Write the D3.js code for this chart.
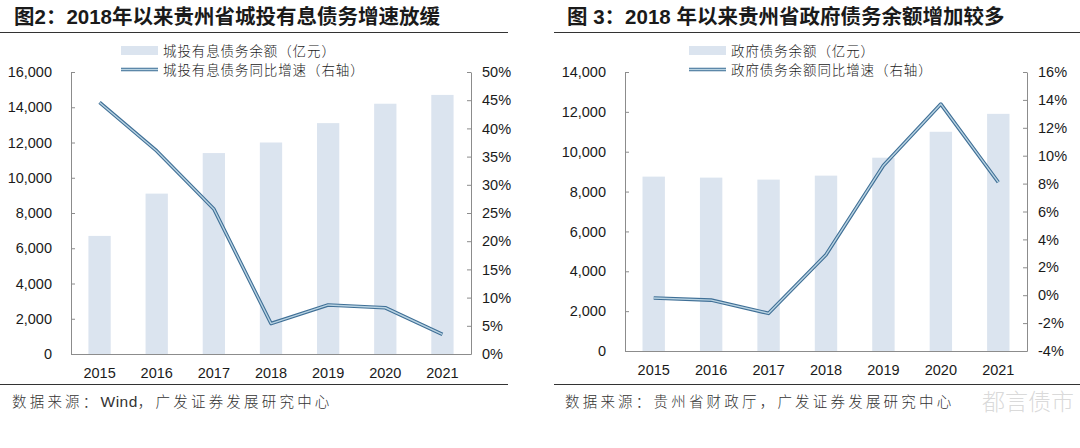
<!DOCTYPE html>
<html><head><meta charset="utf-8">
<script src="https://cdn.jsdelivr.net/npm/d3@7"></script>
<style>
html,body{margin:0;padding:0;background:#fff;}
svg{display:block;}
</style></head>
<body>
<svg id="c" width="1080" height="448"></svg>
<script>
// ---- data ----
const years = ["2015","2016","2017","2018","2019","2020","2021"];
const cityDebt = [6700, 9100, 11400, 12000, 13100, 14200, 14700];
const cityGrowth = [44.6, 36.0, 25.7, 5.4, 8.7, 8.2, 3.5];
const govDebt = [8750, 8700, 8600, 8800, 9700, 11000, 11900];
const govGrowth = [-0.2, -0.35, -1.3, 2.9, 9.3, 13.7, 8.1];
const leftTicks1 = [0,2000,4000,6000,8000,10000,12000,14000,16000];
const rightTicks1 = [0,5,10,15,20,25,30,35,40,45,50];
const leftTicks2 = [0,2000,4000,6000,8000,10000,12000,14000];
const rightTicks2 = [-4,-2,0,2,4,6,8,10,12,14,16];
const title1 = "图2：2018年以来贵州省城投有息债务增速放缓";
const title2 = "图 3：2018 年以来贵州省政府债务余额增加较多";
const legend1 = ["城投有息债务余额（亿元）","城投有息债务同比增速（右轴）"];
const legend2 = ["政府债务余额（亿元）","政府债务余额同比增速（右轴）"];
const source1 = ["数据来源：", "Wind", "，广发证券发展研究中心"];
const source2 = ["数据来源：贵州省财政厅，广发证券发展研究中心"];
const watermark = "都言债市";

const svg = d3.select("#c");
const BAR = "#dbe4ef", AX = "#8c8c8c";
const LINE_OUT = "#3f6f96", LINE_IN = "#b9d3e2";
const numFont = "'Liberation Sans', Arial, sans-serif";
const cjkFont = "'Noto Sans CJK SC', 'Liberation Sans', sans-serif";
const fmt = d3.format(",");

function chart(o){
  const g = svg.append("g");
  // title
  g.append("text").attr("x", o.titleX).attr("y", 24)
    .attr("font-family", "'Liberation Sans', 'Noto Sans CJK SC', sans-serif")
    .attr("font-weight", "bold").attr("font-size", 20.5).attr("fill", "#1a1a1a")
    .text(o.title);
  g.append("line").attr("x1", o.ruleX0).attr("x2", o.ruleX1).attr("y1", 32.5).attr("y2", 32.5)
    .attr("stroke", "#333").attr("stroke-width", 1);
  g.append("line").attr("x1", o.ruleX0).attr("x2", o.ruleX1).attr("y1", 384.5).attr("y2", 384.5)
    .attr("stroke", "#333").attr("stroke-width", 1);
  const st = g.append("text").attr("x", o.srcX).attr("y", 407)
    .attr("font-family", cjkFont).attr("font-weight", 300).attr("font-size", 14.5)
    .attr("fill", "#333");
  st.selectAll("tspan").data(o.source).join("tspan")
    .attr("letter-spacing", d => /^[A-Za-z]+$/.test(d) ? 0.5 : 3.2)
    .attr("font-family", d => /^[A-Za-z]+$/.test(d) ? numFont : cjkFont)
    .attr("font-size", d => /^[A-Za-z]+$/.test(d) ? 15.5 : 14.5)
    .text(d=>d);

  const x = d3.scaleBand().domain(years).range([o.x0, o.x1]).paddingInner(0.61).paddingOuter(0.305);
  const yL = d3.scaleLinear().domain(o.lDomain).range([o.yB, o.yT]);
  const yR = d3.scaleLinear().domain(o.rDomain).range([o.yB, o.yT]);

  // bars
  g.append("g").selectAll("rect").data(o.bars).join("rect")
    .attr("x", (d,i)=>x(years[i])).attr("width", x.bandwidth())
    .attr("y", d=>yL(d)).attr("height", d=>yL(o.lDomain[0]) - yL(d))
    .attr("fill", BAR);

  // axes
  const la = g.append("g").attr("transform", `translate(${o.x0},0)`)
    .call(d3.axisLeft(yL).tickValues(o.lTicks).tickSizeInner(-4).tickSizeOuter(0).tickPadding(19).tickFormat(fmt));
  const ra = g.append("g").attr("transform", `translate(${o.x1},0)`)
    .call(d3.axisRight(yR).tickValues(o.rTicks).tickSizeInner(-4).tickSizeOuter(0).tickPadding(11).tickFormat(d=>d+"%"));
  const ba = g.append("g").attr("transform", `translate(0,${o.yB})`)
    .call(d3.axisBottom(x).tickSize(0).tickPadding(14));
  [la, ra, ba].forEach(a=>{
    a.selectAll("path,line").attr("stroke", AX);
    a.selectAll("text").attr("font-family", numFont).attr("font-size", 14.5).attr("fill", "#1a1a1a");
  });

  // line (double-stroke look)
  const lineGen = d3.line().x((d,i)=>x(years[i]) + x.bandwidth()/2).y(d=>yR(d));
  g.append("path").datum(o.line).attr("d", lineGen).attr("fill","none")
    .attr("stroke", LINE_OUT).attr("stroke-width", 3.6).attr("stroke-linejoin","round");
  g.append("path").datum(o.line).attr("d", lineGen).attr("fill","none")
    .attr("stroke", LINE_IN).attr("stroke-width", 1.4).attr("stroke-linejoin","round");

  // legend
  const lg = g.append("g");
  lg.append("rect").attr("x", o.legX).attr("y", 46).attr("width", 37).attr("height", 9).attr("fill", BAR);
  lg.append("line").attr("x1", o.legX).attr("x2", o.legX+37).attr("y1", 69.5).attr("y2", 69.5)
    .attr("stroke", LINE_OUT).attr("stroke-width", 3.6);
  lg.append("line").attr("x1", o.legX).attr("x2", o.legX+37).attr("y1", 69.5).attr("y2", 69.5)
    .attr("stroke", LINE_IN).attr("stroke-width", 1.4);
  lg.selectAll("text").data(o.legend).join("text")
    .attr("x", o.legX + 42).attr("y", (d,i)=> i===0 ? 56 : 74.5)
    .attr("font-family", cjkFont).attr("font-weight", 300).attr("font-size", 13.5)
    .attr("letter-spacing", 0.9).attr("fill", "#222").text(d=>d);
  return g;
}

chart({title:title1, titleX:14, ruleX0:0, ruleX1:508, srcX:12, source:source1,
  x0:71, x1:471, yT:72, yB:354, lDomain:[0,16000], rDomain:[0,50],
  lTicks:leftTicks1, rTicks:rightTicks1, bars:cityDebt, line:cityGrowth,
  legX:121, legend:legend1});

const g2 = chart({title:title2, titleX:567, ruleX0:554, ruleX1:1080, srcX:565, source:source2,
  x0:625, x1:1027, yT:72, yB:351, lDomain:[0,14000], rDomain:[-4,16],
  lTicks:leftTicks2, rTicks:rightTicks2, bars:govDebt, line:govGrowth,
  legX:689, legend:legend2});

// watermark (placed just right of the source line so the texts do not collide)
g2.append("text").attr("x", 1074).attr("y", 410).attr("text-anchor","end")
  .attr("font-family", cjkFont).attr("font-weight", 300).attr("font-size", 23)
  .attr("fill", "#d0d0d0").attr("fill-opacity", 0.8).text(watermark);
</script>
</body></html>
